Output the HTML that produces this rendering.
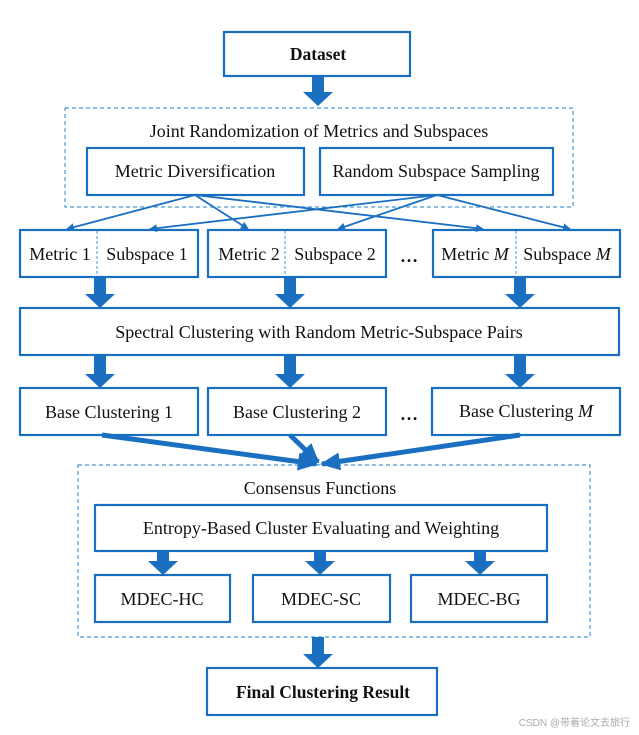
<!DOCTYPE html>
<html><head><meta charset="utf-8"><style>
body{margin:0;background:#fff}
svg{display:block}
text{font-family:"Liberation Serif",serif;fill:#111}
</style></head><body>
<svg width="639" height="735" viewBox="0 0 639 735" xmlns="http://www.w3.org/2000/svg">
<defs>
<marker id="ah" markerWidth="8" markerHeight="8" refX="7" refY="4" orient="auto" markerUnits="userSpaceOnUse"><path d="M0,0 L8,4 L0,8 Z" fill="#1a6fc0"/></marker>
<marker id="bh" markerWidth="20" markerHeight="18" refX="18" refY="9" orient="auto" markerUnits="userSpaceOnUse"><path d="M0,0 L20,9 L0,18 Z" fill="#1a6fc0"/></marker>
</defs>
<g fill="none" stroke="#4a9ad8" stroke-width="1.2" stroke-dasharray="4,3">
<rect x="65" y="108" width="508" height="99"/>
<rect x="78" y="465" width="512" height="172"/>
</g>
<g fill="#fff" stroke="#1a6fc0" stroke-width="2.2">
<rect x="224" y="32" width="186" height="44"/>
<rect x="87" y="148" width="217" height="47"/>
<rect x="320" y="148" width="233" height="47"/>
<rect x="20" y="230" width="178" height="47"/>
<rect x="208" y="230" width="178" height="47"/>
<rect x="433" y="230" width="187" height="47"/>
<rect x="20" y="308" width="599" height="47"/>
<rect x="20" y="388" width="178" height="47"/>
<rect x="208" y="388" width="178" height="47"/>
<rect x="432" y="388" width="188" height="47"/>
<rect x="95" y="505" width="452" height="46"/>
<rect x="95" y="575" width="135" height="47"/>
<rect x="253" y="575" width="137" height="47"/>
<rect x="411" y="575" width="136" height="47"/>
<rect x="207" y="668" width="230" height="47"/>
</g>
<g stroke="#4a9ad8" stroke-width="1" stroke-dasharray="3,2">
<line x1="97" y1="231" x2="97" y2="276"/>
<line x1="285" y1="231" x2="285" y2="276"/>
<line x1="516" y1="231" x2="516" y2="276"/>
</g>
<g stroke="#1a6fc0" stroke-width="1.8" marker-end="url(#ah)">
<line x1="195" y1="195" x2="67" y2="229"/>
<line x1="195" y1="195" x2="248" y2="229"/>
<line x1="195" y1="195" x2="483" y2="229"/>
<line x1="437" y1="195" x2="150" y2="229"/>
<line x1="437" y1="195" x2="338" y2="229"/>
<line x1="437" y1="195" x2="570" y2="229"/>
</g>
<g fill="#1a6fc0">
<path d="M312,76 h12 v16 h9 l-15,14 l-15,-14 h9 z"/>
<path d="M94,277 h12 v17 h9 l-15,14 l-15,-14 h9 z"/>
<path d="M284,277 h12 v17 h9 l-15,14 l-15,-14 h9 z"/>
<path d="M514,277 h12 v17 h9 l-15,14 l-15,-14 h9 z"/>
<path d="M94,355 h12 v19 h9 l-15,14 l-15,-14 h9 z"/>
<path d="M284,355 h12 v19 h9 l-15,14 l-15,-14 h9 z"/>
<path d="M514,355 h12 v19 h9 l-15,14 l-15,-14 h9 z"/>
<path d="M157,551 h12 v10 h9 l-15,14 l-15,-14 h9 z"/>
<path d="M314,551 h12 v10 h9 l-15,14 l-15,-14 h9 z"/>
<path d="M474,551 h12 v10 h9 l-15,14 l-15,-14 h9 z"/>
<path d="M312,637 h12 v17 h9 l-15,14 l-15,-14 h9 z"/>
</g>
<g stroke="#1a6fc0" stroke-width="5" marker-end="url(#bh)">
<line x1="102" y1="435" x2="316" y2="464"/>
<line x1="290" y1="435" x2="318" y2="462"/>
<line x1="520" y1="435" x2="322" y2="464"/>
</g>
<g font-size="18" text-anchor="middle">
<text x="318" y="60" font-weight="bold" font-size="17.5">Dataset</text>
<text x="319" y="137">Joint Randomization of Metrics and Subspaces</text>
<text x="195" y="177">Metric Diversification</text>
<text x="436" y="177">Random Subspace Sampling</text>
<text x="60" y="260">Metric 1</text>
<text x="147" y="260">Subspace 1</text>
<text x="249" y="260">Metric 2</text>
<text x="335" y="260">Subspace 2</text>
<text x="475" y="260">Metric <tspan font-style="italic">M</tspan></text>
<text x="567" y="260">Subspace <tspan font-style="italic">M</tspan></text>
<text x="409" y="262" font-size="18" font-weight="bold">…</text>
<text x="409" y="420" font-size="18" font-weight="bold">…</text>
<text x="319" y="338">Spectral Clustering with Random Metric-Subspace Pairs</text>
<text x="109" y="418">Base Clustering 1</text>
<text x="297" y="418">Base Clustering 2</text>
<text x="526" y="417">Base Clustering <tspan font-style="italic">M</tspan></text>
<text x="320" y="494">Consensus Functions</text>
<text x="321" y="534">Entropy-Based Cluster Evaluating and Weighting</text>
<text x="162" y="605">MDEC-HC</text>
<text x="321" y="605">MDEC-SC</text>
<text x="479" y="605">MDEC-BG</text>
<text x="323" y="698" font-weight="bold" font-size="17.5">Final Clustering Result</text>
</g>
<text x="630" y="726" font-size="10" text-anchor="end" style="fill:#aaa;font-family:'Liberation Sans','Noto Sans CJK SC',sans-serif">CSDN @带着论文去旅行</text>
</svg>
</body></html>
